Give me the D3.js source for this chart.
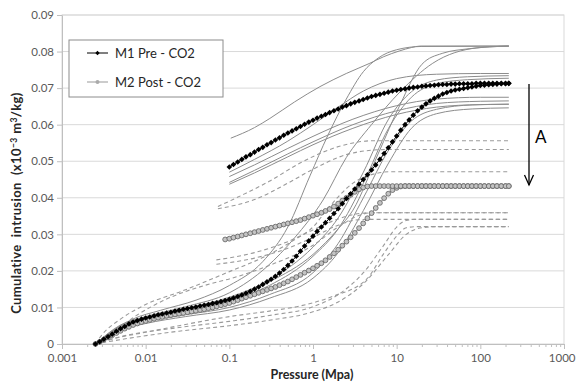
<!DOCTYPE html>
<html>
<head>
<meta charset="utf-8">
<script src="https://cdn.jsdelivr.net/npm/d3@7"></script>
<style>
  body { margin: 0; background: #fff; }
  svg text { font-family: Lato, 'Open Sans', sans-serif; }
</style>
</head>
<body>
<svg id="chart"></svg>
<script>
// axis ticks
const xTicks = [0.001, 0.01, 0.1, 1, 10, 100, 1000];
const xTickLabels = ['0.001', '0.01', '0.1', '1', '10', '100', '1000'];
const yTicks = [0, 0.01, 0.02, 0.03, 0.04, 0.05, 0.06, 0.07, 0.08, 0.09];
const yTickLabels = ['0', '0.01', '0.02', '0.03', '0.04', '0.05', '0.06', '0.07', '0.08', '0.09'];

const seriesNames = ['M1 Pre - CO2', 'M2 Post - CO2'];

// pressure steps (MPa) of the marker series
const pLow = [
  0.00251, 0.00282, 0.00316, 0.00355, 0.00398, 0.00447, 0.00501, 0.00562, 0.00631, 0.00708, 0.00794, 0.00891,
  0.0100, 0.0112, 0.0126, 0.0141, 0.0158, 0.0178, 0.0200, 0.0224, 0.0251, 0.0282, 0.0316, 0.0355, 0.0398, 0.0447, 0.0501, 0.0562, 0.0631, 0.0708, 0.0794, 0.0891,
  0.100, 0.112, 0.126, 0.141, 0.158, 0.178, 0.200, 0.224, 0.251, 0.282, 0.316, 0.355, 0.398, 0.447, 0.501, 0.562, 0.631, 0.708, 0.794, 0.891,
  1.00, 1.12, 1.26, 1.41, 1.58, 1.78, 2.00, 2.24, 2.51, 2.82, 3.16, 3.55, 3.98, 4.47, 5.01, 5.62, 6.31, 7.08, 7.94, 8.91,
  10.0, 11.2, 12.6, 14.1, 15.8, 17.8, 20.0, 22.4, 25.1, 28.2, 31.6, 35.5, 39.8, 44.7, 50.1, 56.2, 63.1, 70.8, 79.4, 89.1,
  100, 112, 126, 141, 158, 178, 200, 219
];
const pHigh = [
  0.0891,
  0.100, 0.112, 0.126, 0.141, 0.158, 0.178, 0.200, 0.224, 0.251, 0.282, 0.316, 0.355, 0.398, 0.447, 0.501, 0.562, 0.631, 0.708, 0.794, 0.891,
  1.00, 1.12, 1.26, 1.41, 1.58, 1.78, 2.00, 2.24, 2.51, 2.82, 3.16, 3.55, 3.98, 4.47, 5.01, 5.62, 6.31, 7.08, 7.94, 8.91,
  10.0, 11.2, 12.6, 14.1, 15.8, 17.8, 20.0, 22.4, 25.1, 28.2, 31.6, 35.5, 39.8, 44.7, 50.1, 56.2, 63.1, 70.8, 79.4, 89.1,
  100, 112, 126, 141, 158, 178, 200, 219
];

// M1 Pre - CO2 (black diamonds)
const m1Low = [
  0.0000, 0.0006, 0.0013, 0.0020, 0.0027, 0.0035, 0.0042, 0.0048, 0.0055, 0.0060, 0.0064, 0.0068,
  0.0071, 0.0074, 0.0077, 0.0080, 0.0082, 0.0085, 0.0087, 0.0090, 0.0092, 0.0095, 0.0097, 0.0099, 0.0101, 0.0104, 0.0106, 0.0108, 0.0111, 0.0113, 0.0116, 0.0119,
  0.0122, 0.0126, 0.0130, 0.0134, 0.0139, 0.0144, 0.0150, 0.0156, 0.0163, 0.0170, 0.0177, 0.0185, 0.0194, 0.0204, 0.0215, 0.0227, 0.0240, 0.0254, 0.0268, 0.0282,
  0.0295, 0.0308, 0.0320, 0.0332, 0.0344, 0.0357, 0.0370, 0.0384, 0.0398, 0.0411, 0.0424, 0.0437, 0.0450, 0.0463, 0.0476, 0.0490, 0.0505, 0.0521, 0.0537, 0.0553,
  0.0569, 0.0585, 0.0600, 0.0613, 0.0626, 0.0638, 0.0648, 0.0657, 0.0665, 0.0672, 0.0678, 0.0684, 0.0688, 0.0692, 0.0695, 0.0697, 0.0699, 0.0701, 0.0703, 0.0705,
  0.0707, 0.0708, 0.0709, 0.0710, 0.0711, 0.0712, 0.0712, 0.0713
];
const m1High = [
  null,
  0.0484, 0.0491, 0.0498, 0.0505, 0.0512, 0.0518, 0.0525, 0.0532, 0.0538, 0.0545, 0.0551, 0.0558, 0.0564, 0.0571, 0.0577, 0.0583, 0.0589, 0.0595, 0.0601, 0.0607,
  0.0612, 0.0618, 0.0623, 0.0628, 0.0633, 0.0638, 0.0643, 0.0648, 0.0652, 0.0657, 0.0661, 0.0665, 0.0669, 0.0673, 0.0677, 0.0680, 0.0683, 0.0686, 0.0689, 0.0692,
  0.0694, 0.0696, 0.0698, 0.0700, 0.0702, 0.0703, 0.0705, 0.0706, 0.0707, 0.0708, 0.0709, 0.0710, 0.0710, 0.0711, 0.0711, 0.0712, 0.0712, 0.0712, 0.0712, 0.0713,
  0.0713, 0.0713, 0.0713, 0.0713, 0.0713, 0.0713, 0.0713, 0.0713
];

// M2 Post - CO2 (grey circles)
const m2Low = [
  0.0000, 0.0006, 0.0012, 0.0018, 0.0024, 0.0030, 0.0036, 0.0042, 0.0047, 0.0052, 0.0056, 0.0060,
  0.0063, 0.0066, 0.0069, 0.0072, 0.0074, 0.0077, 0.0079, 0.0081, 0.0083, 0.0085, 0.0087, 0.0089, 0.0091, 0.0093, 0.0095, 0.0098, 0.0100, 0.0103, 0.0106, 0.0109,
  0.0112, 0.0116, 0.0120, 0.0124, 0.0128, 0.0132, 0.0136, 0.0140, 0.0144, 0.0148, 0.0152, 0.0156, 0.0161, 0.0166, 0.0171, 0.0177, 0.0183, 0.0189, 0.0195, 0.0201,
  0.0207, 0.0214, 0.0221, 0.0229, 0.0238, 0.0248, 0.0258, 0.0269, 0.0280, 0.0292, 0.0304, 0.0317, 0.0330, 0.0344, 0.0358, 0.0372, 0.0386, 0.0399, 0.0411, 0.0421,
  0.0427, 0.0431, 0.0432, 0.0432, 0.0432, 0.0432, 0.0432, 0.0432, 0.0432, 0.0432, 0.0432, 0.0432, 0.0432, 0.0432, 0.0432, 0.0432, 0.0432, 0.0432, 0.0432, 0.0432,
  0.0432, 0.0432, 0.0432, 0.0432, 0.0432, 0.0432, 0.0432, 0.0432
];
const m2High = [
  0.0286,
  0.0288, 0.0291, 0.0294, 0.0297, 0.0300, 0.0303, 0.0306, 0.0309, 0.0312, 0.0315, 0.0318, 0.0321, 0.0324, 0.0327, 0.0330, 0.0333, 0.0336, 0.0339, 0.0343, 0.0347,
  0.0351, 0.0355, 0.0359, 0.0364, 0.0369, 0.0376, 0.0384, 0.0392, 0.0400, 0.0408, 0.0416, 0.0423, 0.0428, 0.0431, 0.0432, 0.0432, 0.0432, 0.0432, 0.0432, 0.0432,
  0.0432, 0.0432, 0.0432, 0.0432, 0.0432, 0.0432, 0.0432, 0.0432, 0.0432, 0.0432, 0.0432, 0.0432, 0.0432, 0.0432, 0.0432, 0.0432, 0.0432, 0.0432, 0.0432, 0.0432,
  0.0432, 0.0432, 0.0432, 0.0432, 0.0432, 0.0432, 0.0432, 0.0432
];

// other samples, [pressure MPa, intrusion]
const solidCurves = [
  [[0.104, 0.0563], [0.2, 0.0592], [0.305, 0.0617], [0.6, 0.0662], [1.21, 0.0704], [2.5, 0.0740], [4.78, 0.0768], [7, 0.0786], [10.9, 0.0802], [15, 0.0811], [19, 0.0815], [219, 0.0815]],
  [[0.1, 0.0470], [0.2, 0.0505], [0.5, 0.0555], [1, 0.0600], [2, 0.0648], [4, 0.0692], [10, 0.0726], [30, 0.0738], [100, 0.0740], [219, 0.0740]],
  [[0.1, 0.0458], [0.2, 0.0490], [0.5, 0.0535], [1, 0.0568], [3, 0.0615], [10, 0.0652], [30, 0.0670], [100, 0.0675], [219, 0.0675]],
  [[0.1, 0.0442], [0.2, 0.0475], [0.5, 0.0520], [1, 0.0553], [3, 0.0600], [10, 0.0638], [30, 0.0658], [100, 0.0664], [219, 0.0665]],
  [[0.1, 0.0437], [0.2, 0.0468], [0.5, 0.0512], [1, 0.0545], [3, 0.0590], [10, 0.0628], [30, 0.0648], [100, 0.0655], [219, 0.0656]],
  [[0.0025, 0], [0.004, 0.0035], [0.007, 0.0068], [0.015, 0.0092], [0.04, 0.0120], [0.1, 0.0160], [0.25, 0.0225], [0.5, 0.0320], [0.92, 0.0460], [1.5, 0.0570], [2.5, 0.0670], [4, 0.0745], [6, 0.0782], [10, 0.0805], [20, 0.0814], [219, 0.0815]],
  [[0.0025, 0], [0.005, 0.0052], [0.01, 0.0075], [0.03, 0.0102], [0.1, 0.0140], [0.28, 0.0211], [0.6, 0.0290], [1.32, 0.0394], [2.5, 0.0510], [5, 0.0600], [11, 0.0690], [27, 0.0768], [91, 0.0810], [219, 0.0815]],
  [[0.0025, 0], [0.005, 0.0048], [0.01, 0.0070], [0.03, 0.0095], [0.1, 0.0125], [0.3, 0.0170], [1, 0.0245], [2, 0.0315], [3, 0.0366], [6, 0.0520], [11, 0.0655], [20, 0.0765], [35, 0.0795], [75, 0.0808], [219, 0.0815]],
  [[0.0025, 0], [0.005, 0.0050], [0.01, 0.0072], [0.03, 0.0098], [0.1, 0.0128], [0.3, 0.0175], [1, 0.0265], [2, 0.0345], [4, 0.0470], [8, 0.0615], [15, 0.0690], [30, 0.0722], [70, 0.0731], [219, 0.0734]],
  [[0.0025, 0], [0.005, 0.0045], [0.01, 0.0066], [0.03, 0.0090], [0.1, 0.0118], [0.3, 0.0160], [1, 0.0240], [2, 0.0315], [4, 0.0440], [8, 0.0590], [15, 0.0675], [30, 0.0712], [70, 0.0723], [219, 0.0727]],
  [[0.0025, 0], [0.005, 0.0040], [0.01, 0.0060], [0.03, 0.0080], [0.1, 0.0100], [0.3, 0.0135], [1, 0.0195], [2, 0.0275], [4, 0.0400], [8, 0.0530], [15, 0.0610], [30, 0.0642], [80, 0.0654], [219, 0.0656]],
  [[0.0025, 0], [0.005, 0.0038], [0.01, 0.0056], [0.03, 0.0075], [0.1, 0.0093], [0.3, 0.0125], [1, 0.0180], [2, 0.0250], [4, 0.0365], [8, 0.0495], [15, 0.0590], [30, 0.0630], [80, 0.0643], [219, 0.0646]]
];
const dashedCurves = [
  [[0.073, 0.0376], [0.15, 0.0410], [0.3, 0.0445], [0.7, 0.0495], [1.5, 0.0530], [3, 0.0550], [5, 0.0556], [219, 0.0556]],
  [[0.073, 0.0370], [0.2, 0.0395], [0.5, 0.0440], [1, 0.0478], [2.5, 0.0518], [5, 0.0530], [8, 0.0532], [219, 0.0532]],
  [[0.07, 0.0230], [0.2, 0.0250], [0.5, 0.0280], [1, 0.0312], [2, 0.0342], [3.6, 0.0357], [5, 0.0359], [219, 0.0359]],
  [[0.07, 0.0218], [0.2, 0.0235], [0.5, 0.0262], [1, 0.0292], [2, 0.0325], [3.5, 0.0340], [5, 0.0341], [219, 0.0341]],
  [[0.0025, 0], [0.003, 0.0025], [0.005, 0.0068], [0.01, 0.0108], [0.026, 0.0143], [0.1, 0.0198], [0.3, 0.0245], [0.6, 0.0285], [1, 0.0320], [1.5, 0.0370], [3, 0.0440], [5.8, 0.0467], [8, 0.0471], [219, 0.0471]],
  [[0.0025, 0], [0.004, 0.0030], [0.008, 0.0080], [0.016, 0.0118], [0.06, 0.0165], [0.1, 0.0178], [0.3, 0.0215], [1, 0.0270], [2, 0.0320], [3.6, 0.0352], [5, 0.0359], [219, 0.0359]],
  [[0.0025, 0], [0.004, 0.0014], [0.01, 0.0032], [0.025, 0.0050], [0.1, 0.0075], [0.3, 0.0090], [0.7, 0.0104], [1.7, 0.0130], [4.4, 0.0178], [6.9, 0.0245], [10, 0.0295], [13, 0.0318], [17, 0.0321], [219, 0.0321]],
  [[0.0025, 0], [0.005, 0.0020], [0.025, 0.0045], [0.1, 0.0062], [0.3, 0.0078], [1, 0.0102], [2, 0.0135], [4, 0.0195], [7, 0.0270], [10, 0.0320], [13, 0.0338], [17, 0.0341], [219, 0.0341]],
  [[0.0025, 0], [0.005, 0.0012], [0.025, 0.0035], [0.1, 0.0050], [0.3, 0.0065], [1, 0.0088], [2, 0.0115], [4, 0.0165], [8, 0.0245], [13, 0.0300], [20, 0.0318], [30, 0.0321], [219, 0.0321]]
];

const svgWidth = 576;
const svgHeight = 387;
const plotLeft = 62, plotRight = 564, plotTop = 15, plotBottom = 344;

const svg = d3.select('#chart')
  .attr('width', svgWidth)
  .attr('height', svgHeight);

const xScale = d3.scaleLog()
  .domain([0.001, 1000])
  .range([plotLeft, plotRight]);

const yScale = d3.scaleLinear()
  .domain([0, 0.09])
  .range([plotBottom, plotTop]);

// gridlines + frame
svg.append('g').selectAll('line')
  .data(yTicks.slice(1))
  .enter().append('line')
  .attr('x1', plotLeft).attr('x2', plotRight)
  .attr('y1', d => yScale(d)).attr('y2', d => yScale(d))
  .attr('stroke', '#d9d9d9');

svg.append('rect')
  .attr('x', plotLeft).attr('y', plotTop)
  .attr('width', plotRight - plotLeft).attr('height', plotBottom - plotTop)
  .attr('fill', 'none').attr('stroke', '#d9d9d9');

// axes
const yAxis = d3.axisLeft(yScale)
  .tickValues(yTicks)
  .tickFormat((d, i) => yTickLabels[i])
  .tickSize(5).tickSizeOuter(0).tickPadding(3);

const yG = svg.append('g')
  .attr('transform', `translate(${plotLeft},0)`)
  .call(yAxis);

let minorTicks = [];
for (let e = -3; e < 3; e++) {
  for (let k = 2; k < 10; k++) minorTicks.push(k * Math.pow(10, e));
}

const xMinor = svg.append('g')
  .attr('transform', `translate(0,${plotBottom})`)
  .call(d3.axisBottom(xScale).tickValues(minorTicks).tickFormat('').tickSize(3).tickSizeOuter(0));

const xG = svg.append('g')
  .attr('transform', `translate(0,${plotBottom})`)
  .call(d3.axisBottom(xScale)
    .tickValues(xTicks)
    .tickFormat((d, i) => xTickLabels[i])
    .tickSize(5).tickSizeOuter(0).tickPadding(5));

[yG, xG, xMinor].forEach(g => {
  g.select('.domain').attr('stroke', '#bfbfbf');
  g.selectAll('.tick line').attr('stroke', '#bfbfbf');
  g.selectAll('.tick text')
    .attr('fill', '#595959')
    .style('font-size', '11.5px');
});

// keep the last label inside the window
xG.selectAll('.tick text')
  .filter(d => d === 1000)
  .attr('text-anchor', 'end')
  .attr('dx', 11);

// axis titles
const yTitle = svg.append('text')
  .attr('transform', 'translate(21,203) rotate(-90)')
  .attr('text-anchor', 'middle')
  .style('font-size', '13px')
  .style('font-weight', 'bold')
  .style('letter-spacing', '0.4px')
  .style('white-space', 'pre')
  .attr('fill', '#262626');
yTitle.append('tspan').text('Cumulative  intrusion  (x10');
yTitle.append('tspan').attr('dy', -4).style('font-size', '8.5px').text('\u22123');
yTitle.append('tspan').attr('dy', 4).text(' m');
yTitle.append('tspan').attr('dy', -4).style('font-size', '8.5px').text('3');
yTitle.append('tspan').attr('dy', 4).text('/kg)');

svg.append('text')
  .attr('x', 312).attr('y', 379)
  .attr('text-anchor', 'middle')
  .style('font-size', '12.5px')
  .style('font-weight', 'bold')
  .attr('fill', '#262626')
  .text('Pressure (Mpa)');

// sample curves
const curveLine = d3.line()
  .x(d => xScale(d[0]))
  .y(d => yScale(d[1]))
  .curve(d3.curveMonotoneX);

svg.append('g').selectAll('path')
  .data(solidCurves)
  .enter().append('path')
  .attr('d', curveLine)
  .attr('fill', 'none')
  .attr('stroke', '#8c8c8c')
  .attr('stroke-width', 1);

svg.append('g').selectAll('path')
  .data(dashedCurves)
  .enter().append('path')
  .attr('d', curveLine)
  .attr('fill', 'none')
  .attr('stroke', '#9a9a9a')
  .attr('stroke-width', 1.1)
  .attr('stroke-dasharray', '4,3');

// marker series
const pairUp = (ps, vs) => vs.map((v, i) => [ps[i], v]).filter(d => d[0] != null && d[1] != null);
const m2Sets = [pairUp(pLow, m2Low), pairUp(pHigh, m2High)];
const m1Sets = [pairUp(pLow, m1Low), pairUp(pHigh, m1High)];

const pointLine = d3.line()
  .x(d => xScale(d[0]))
  .y(d => yScale(d[1]));

const diamond = 'M0,-2.8L2.8,0L0,2.8L-2.8,0Z';

m2Sets.forEach(set => {
  svg.append('path')
    .attr('d', pointLine(set))
    .attr('fill', 'none').attr('stroke', '#808080').attr('stroke-width', 1);
  svg.append('g').selectAll('circle')
    .data(set)
    .enter().append('circle')
    .attr('cx', d => xScale(d[0]))
    .attr('cy', d => yScale(d[1]))
    .attr('r', 2.4)
    .attr('fill', '#c4c4c4')
    .attr('stroke', '#6b6b6b')
    .attr('stroke-width', 0.9);
});

m1Sets.forEach(set => {
  svg.append('path')
    .attr('d', pointLine(set))
    .attr('fill', 'none').attr('stroke', '#000').attr('stroke-width', 1);
  svg.append('g').selectAll('path')
    .data(set)
    .enter().append('path')
    .attr('d', diamond)
    .attr('transform', d => `translate(${xScale(d[0])},${yScale(d[1])})`)
    .attr('fill', '#000');
});

// legend
const legend = svg.append('g');
legend.append('rect')
  .attr('x', 69).attr('y', 40).attr('width', 154).attr('height', 57)
  .attr('fill', '#fff').attr('stroke', '#8c8c8c');

const legendRows = legend.selectAll('g.row')
  .data(seriesNames)
  .enter().append('g')
  .attr('class', 'row')
  .attr('transform', (d, i) => `translate(0,${53 + i * 29})`);

legendRows.append('line')
  .attr('x1', 87).attr('x2', 108)
  .attr('stroke', (d, i) => i === 0 ? '#000' : '#999');

legendRows.filter((d, i) => i === 0).append('path')
  .attr('d', 'M0,-2.2L2.2,0L0,2.2L-2.2,0Z')
  .attr('transform', 'translate(97.5,0)')
  .attr('fill', '#000');

legendRows.filter((d, i) => i === 1).append('circle')
  .attr('cx', 97.5).attr('r', 2)
  .attr('fill', '#aaa');

legendRows.append('text')
  .attr('x', 115).attr('dy', '0.35em')
  .style('font-size', '13px')
  .attr('fill', '#262626')
  .text(d => d);

// arrow A
svg.append('line')
  .attr('x1', 529).attr('x2', 529).attr('y1', 84).attr('y2', 185)
  .attr('stroke', '#000').attr('stroke-width', 1.3);
svg.append('path')
  .attr('d', 'M524.5,175L529,185L533.5,175')
  .attr('fill', 'none').attr('stroke', '#000').attr('stroke-width', 1.3);
svg.append('text')
  .attr('x', 535).attr('y', 143)
  .style('font-size', '17px')
  .attr('fill', '#000')
  .text('A');
</script>
</body>
</html>
